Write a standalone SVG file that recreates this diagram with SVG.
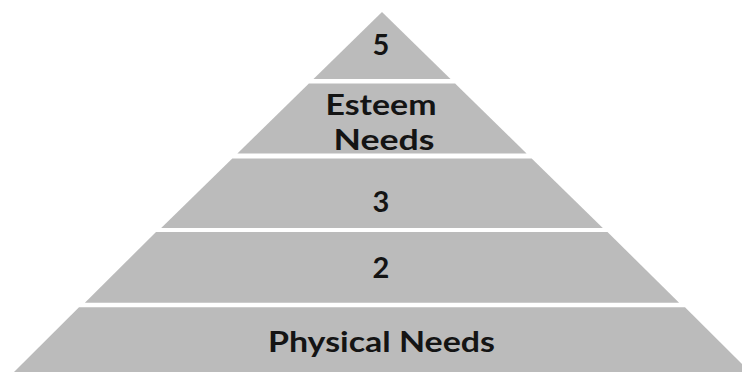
<svg xmlns="http://www.w3.org/2000/svg" width="742" height="372" viewBox="0 0 742 372">
  <style>
    .layer { fill: #bbbbbb; }
    .lbl { font-family: Lato, "Open Sans", "Liberation Sans", sans-serif; font-weight: bold; font-size: 29px; fill: #141414; text-anchor: middle; }
  </style>
  <rect width="742" height="372" fill="#ffffff"/>
  <g id="level5">
    <polygon class="layer" points="382,12 450.5,79 313.5,79"/>
    <text class="lbl" x="381" y="55">5</text>
  </g>
  <g id="level4">
    <polygon class="layer" points="308.9,83.5 455.1,83.5 526.6,153.5 237.4,153.5"/>
    <text class="lbl" x="381" y="115" textLength="111" lengthAdjust="spacingAndGlyphs">Esteem</text>
    <text class="lbl" x="384" y="150" textLength="101" lengthAdjust="spacingAndGlyphs">Needs</text>
  </g>
  <g id="level3">
    <polygon class="layer" points="232.3,158.5 531.7,158.5 602.8,228 161.2,228"/>
    <text class="lbl" x="381" y="212">3</text>
  </g>
  <g id="level2">
    <polygon class="layer" points="156,232 607.5,232 679.1,302.7 84.9,302.7"/>
    <text class="lbl" x="381" y="278">2</text>
  </g>
  <g id="level1">
    <polygon class="layer" points="79,307.3 685,307.3 750,372 14,372"/>
    <text class="lbl" x="381.5" y="351.5" textLength="227" lengthAdjust="spacingAndGlyphs">Physical Needs</text>
  </g>
  <g id="connectors"/>
</svg>
